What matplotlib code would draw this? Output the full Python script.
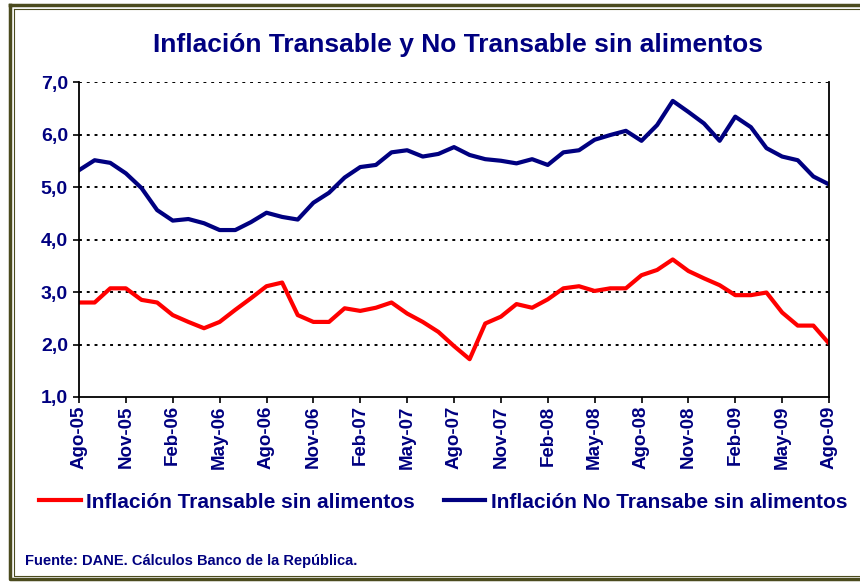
import matplotlib
matplotlib.use("Agg")
import matplotlib.pyplot as plt
from matplotlib.lines import Line2D

plt.rcParams['font.family'] = ['Liberation Sans', 'DejaVu Sans']
plt.rcParams['font.weight'] = 'bold'

navy = '#000080'

# monthly data Ago-05 .. Ago-09
tick_labels = ['Ago-05', 'Nov-05', 'Feb-06', 'May-06', 'Ago-06', 'Nov-06', 'Feb-07',
               'May-07', 'Ago-07', 'Nov-07', 'Feb-08', 'May-08', 'Ago-08', 'Nov-08',
               'Feb-09', 'May-09', 'Ago-09']

transable = [2.80, 2.80, 3.07, 3.07, 2.85, 2.80, 2.56, 2.43, 2.31, 2.43,
             2.66, 2.88, 3.11, 3.18, 2.56, 2.43, 2.43, 2.69, 2.64, 2.70,
             2.80, 2.59, 2.43, 2.24, 1.97, 1.72, 2.40, 2.53, 2.77, 2.70,
             2.86, 3.07, 3.11, 3.02, 3.07, 3.07, 3.32, 3.42, 3.62, 3.40,
             3.26, 3.13, 2.94, 2.94, 2.99, 2.61, 2.36, 2.36, 2.02]

no_transable = [5.32, 5.51, 5.46, 5.26, 4.98, 4.56, 4.36, 4.39, 4.31, 4.18,
                4.18, 4.33, 4.51, 4.43, 4.38, 4.70, 4.89, 5.18, 5.38, 5.42,
                5.66, 5.70, 5.58, 5.63, 5.76, 5.61, 5.53, 5.50, 5.45, 5.53,
                5.42, 5.66, 5.70, 5.90, 5.99, 6.07, 5.88, 6.18, 6.64, 6.43,
                6.21, 5.88, 6.34, 6.14, 5.74, 5.58, 5.51, 5.20, 5.05]

fig = plt.figure(figsize=(8.6, 5.82), dpi=100)
ax = fig.add_axes([79/860, 1-397/582, 750/860, 315/582])

x = list(range(len(transable)))
ax.plot(x, transable, color='#ff0000', lw=3, solid_joinstyle='round',
        label='Inflación Transable sin alimentos')
ax.plot(x, no_transable, color=navy, lw=3, solid_joinstyle='round',
        label='Inflación No Transabe sin alimentos')

ax.set_xlim(0, 48)
ax.set_ylim(1, 7)
ax.set_yticks([1, 2, 3, 4, 5, 6, 7])
ax.set_xticks(range(0, 49, 3))
ax.set_xticklabels(tick_labels, rotation=90, color=navy, fontsize=13.5,
                   fontweight='bold')
ax.yaxis.set_major_formatter(matplotlib.ticker.FuncFormatter(
    lambda v, p: ('%.1f' % v).replace('.', ',')))
for t in ax.get_yticklabels():
    t.set_color(navy)
    t.set_fontsize(14)
    t.set_fontweight('bold')
ax.tick_params(axis='y', labelcolor=navy, labelsize=14)
ax.tick_params(axis='both', direction='out', length=4, width=1.2, color='black')
ax.tick_params(axis='y', pad=4)
ax.tick_params(axis='x', pad=2)

for y in [2, 3, 4, 5, 6, 7]:
    ax.axhline(y, color='black', lw=1.4, linestyle=(0, (1.5, 2.5)), zorder=0)
ax.spines['top'].set_visible(False)
for s in ['left', 'right', 'bottom']:
    ax.spines[s].set_linewidth(1.3)

fig.text(458/860, 1-45/582, 'Inflación Transable y No Transable sin alimentos',
         ha='center', va='center', color=navy, fontsize=19, fontweight='bold')

leg = fig.legend(loc='center', bbox_to_anchor=(443/860, 1-502/582), ncol=2,
                 frameon=False, fontsize=15, handlelength=2.0, handletextpad=0.25,
                 columnspacing=1.4, borderaxespad=0)
for t in leg.get_texts():
    t.set_color(navy)
    t.set_fontweight('bold')

fig.text(25/860, 1-561/582, 'Fuente: DANE. Cálculos Banco de la República.',
         ha='left', va='center', color=navy, fontsize=10.5, fontweight='bold')

# frame
olive = '#4b4b1e'
fig.add_artist(Line2D([9.5/860, 9.5/860, 1.01, 1.01, 9.5/860],
                      [1-4.5/582, 1-579/582, 1-579/582, 1-4.5/582, 1-4.5/582],
                      transform=fig.transFigure, color=olive, lw=2.5))
fig.add_artist(Line2D([13.5/860, 13.5/860, 1.01, 1.01, 13.5/860],
                      [1-8.5/582, 1-575.5/582, 1-575.5/582, 1-8.5/582, 1-8.5/582],
                      transform=fig.transFigure, color=olive, lw=0.8))

fig.savefig('out.png', dpi=100)
